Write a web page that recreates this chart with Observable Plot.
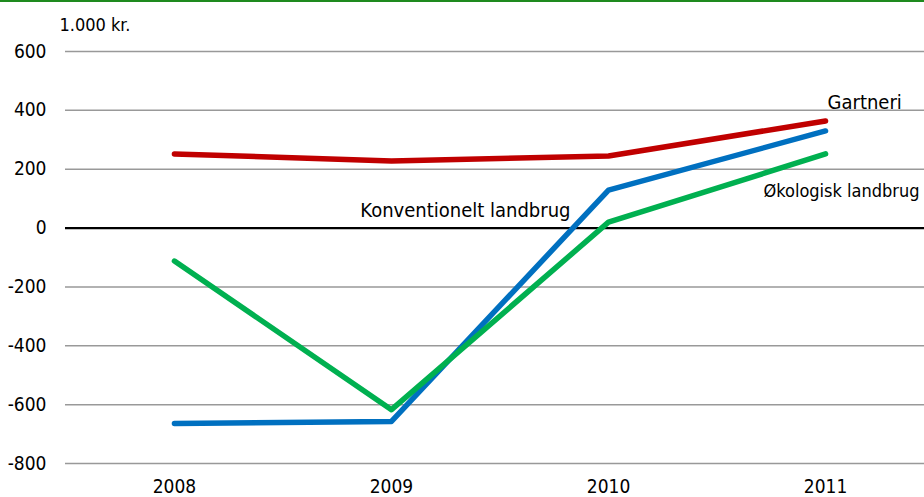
<!DOCTYPE html>
<html>
<head>
<meta charset="utf-8">
<script src="https://cdn.jsdelivr.net/npm/d3@7"></script>
<script src="https://cdn.jsdelivr.net/npm/@observablehq/plot@0.6"></script>
<style>
  html, body { margin: 0; padding: 0; background: #fff; }
  #chart { width: 924px; border-top: 2px solid #1e8a1e; }
  svg { font-family: "Liberation Sans Narrow", "DejaVu Sans Condensed", sans-serif; }
</style>
</head>
<body>
<div id="chart"></div>
<script>
const years = [2008, 2009, 2010, 2011];
const gartneri = [252, 228, 245, 364];
const konventionelt = [-664, -657, 129, 330];
const oekologisk = [-112, -617, 20, 252];
const yTicks = [-800, -600, -400, -200, 0, 200, 400, 600];
const seriesNames = ["Gartneri", "Konventionelt landbrug", "Økologisk landbrug"];
const seriesColors = ["#c00000", "#0070c0", "#00b050"];

const allValues = [gartneri, konventionelt, oekologisk];
const rows = [];
seriesNames.forEach((name, i) => {
  years.forEach((yr, j) => rows.push({series: name, year: yr, value: allValues[i][j]}));
});

const labelAt = (name, year) => rows.filter(d => d.series === name && d.year === year);

const chart = Plot.plot({
  width: 924,
  height: 495,
  marginLeft: 65,
  marginRight: 0,
  marginTop: 49,
  marginBottom: 34,
  style: {fontSize: "19px", color: "#000", background: "#fff"},
  x: {type: "linear", domain: [2007.498, 2011.456], label: null},
  y: {domain: [-800, 600], label: null},
  color: {domain: seriesNames, range: seriesColors},
  marks: [
    Plot.gridY(yTicks.filter(d => d !== 0), {stroke: "#999", strokeOpacity: 1, strokeWidth: 1.5}),
    Plot.ruleY([0], {stroke: "#000", strokeWidth: 2.3}),
    Plot.axisY({ticks: yTicks, tickSize: 0, tickPadding: 19, tickFormat: d => String(d), fontSize: 19}),
    Plot.axisX({ticks: years, tickSize: 0, tickPadding: 16, tickFormat: d => String(d), fontSize: 19}),
    Plot.line(rows, {x: "year", y: "value", z: "series", stroke: "series", strokeWidth: 5.5, strokeLinecap: "round", strokeLinejoin: "round"}),
    Plot.text(["1.000 kr."], {frameAnchor: "top-left", textAnchor: "start", lineAnchor: "middle", dx: -6, dy: -26, fontSize: 18}),
    Plot.text(labelAt("Gartneri", 2011), {x: "year", y: "value", text: "series", textAnchor: "start", dx: 2, dy: -18, fontSize: 20}),
    Plot.text(labelAt("Økologisk landbrug", 2011), {x: "year", y: "value", text: "series", textAnchor: "middle", dx: 16, dy: 37, fontSize: 18}),
    Plot.text(labelAt("Konventionelt landbrug", 2010), {x: "year", y: "value", text: "series", textAnchor: "end", dx: -38, dy: 20, fontSize: 20})
  ]
});
document.getElementById("chart").appendChild(chart);
</script>
</body>
</html>
